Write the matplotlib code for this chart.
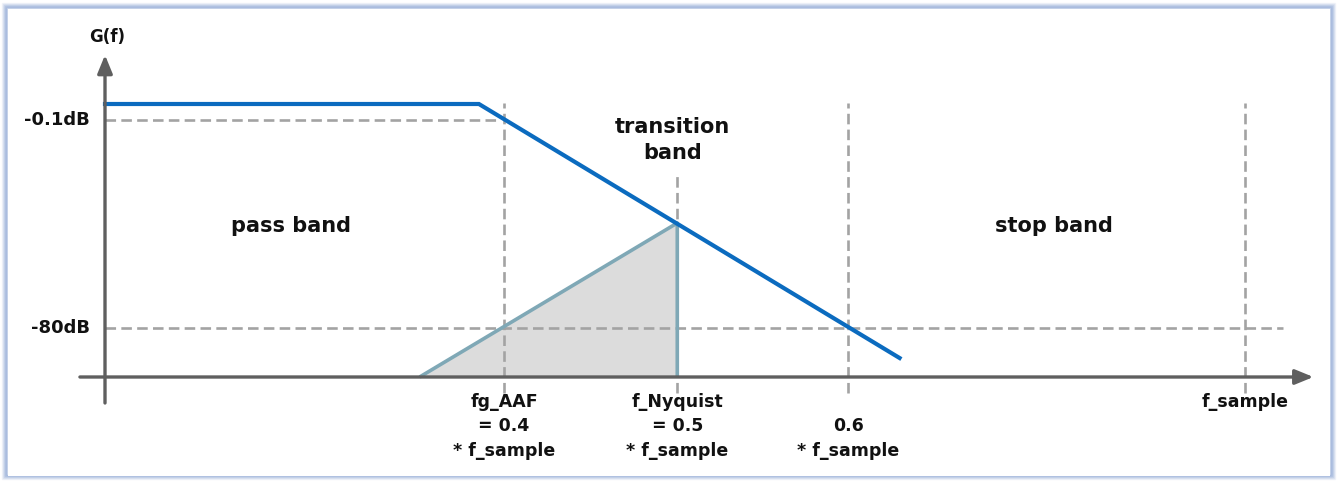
import numpy as np
import matplotlib
matplotlib.use("Agg")
import matplotlib.pyplot as plt
from matplotlib.patches import Rectangle, Polygon

# ---- schematic data (x in diagram units, f_sample = 1.0; y in diagram units) ----
resp_x = [0.0, 0.328, 0.697]          # filter response: flat pass band, then roll-off
resp_y = [2.73, 2.73, 0.19]
alias_x = [0.276, 0.502, 0.502]       # aliased (mirrored) component
alias_y = [0.0, 1.54, 0.0]
level_y = [2.57, 0.49]                # -0.1 dB and -80 dB levels
level_labels = ["-0.1dB", "-80dB"]
level_end_x = [0.345, 1.033]
vline_x = [0.350, 0.502, 0.652, 1.000]
vline_top = [2.74, 2.02, 2.74, 2.74]
tick_labels = ["fg_AAF\n= 0.4\n* f_sample", "f_Nyquist\n= 0.5\n* f_sample",
               "\n0.6\n* f_sample", "f_sample"]
band_labels = ["pass band", "transition\nband", "stop band"]
band_x = [0.163, 0.498, 0.832]
band_y = [1.51, 2.37, 1.51]

W, H = 1337, 482
fig = plt.figure(figsize=(W / 100, H / 100), dpi=100)
fig.patch.set_facecolor("white")

# frame with soft bluish border
fax = fig.add_axes([0, 0, 1, 1])
fax.set_xlim(0, W)
fax.set_ylim(H, 0)
fax.axis("off")
for i, a in enumerate([0.15, 0.3, 0.5, 0.7, 0.8, 0.5]):
    off = 1.5 + i
    fax.add_patch(Rectangle((off, off + 1), W - 2 * off - 1, H - 2 * off - 3,
                            fill=False, edgecolor="#9bb1d9", lw=1.0, alpha=a))
fax.add_patch(Rectangle((7.5, 8.5), W - 15, H - 15, facecolor="white", edgecolor="none"))

ax = fig.add_axes([0, 0, 1, 1])
ax.set_xlim(-105 / 1140, (W - 105) / 1140)
ax.set_ylim(-1.05, 3.77)
ax.axis("off")
ax.patch.set_alpha(0)

dash_kw = dict(color="#a3a3a3", lw=1.9, dashes=(4, 2))

# aliased triangle fill
ax.add_patch(Polygon(list(zip(alias_x, alias_y)), closed=True,
                     facecolor="#dcdcdc", edgecolor="none", zorder=1))

# dashed levels
for y, xe, lab in zip(level_y, level_end_x, level_labels):
    ax.plot([0, xe], [y, y], **dash_kw, zorder=2)
    ax.text(-0.013, y, lab, ha="right", va="center", fontsize=13,
            fontweight="bold", family="DejaVu Sans", color="#111111")

# vertical dashed lines
for x, top in zip(vline_x, vline_top):
    ax.plot([x, x], [-0.16, top], **dash_kw, zorder=2)

ax.plot(alias_x, alias_y, color="#7fa8b6", lw=2.6, zorder=3, solid_capstyle="butt")

# response
ax.plot(resp_x, resp_y, color="#0b6bbf", lw=3.0, zorder=4, solid_joinstyle="miter")

# axes arrows
ax.annotate("", xy=(1.060, 0), xytext=(-0.022, 0),
            arrowprops=dict(arrowstyle="-|>,head_length=1.1,head_width=0.45",
                            color="#5f5f5f", lw=2.4, shrinkA=0, shrinkB=0), zorder=5)
ax.annotate("", xy=(0, 3.22), xytext=(0, -0.26),
            arrowprops=dict(arrowstyle="-|>,head_length=1.1,head_width=0.45",
                            color="#5f5f5f", lw=2.4, shrinkA=0, shrinkB=0), zorder=5)

ax.text(0.002, 3.40, "G(f)", ha="center", va="center", fontsize=12,
        fontweight="bold", color="#111111")

for x, lab in zip(vline_x, tick_labels):
    ax.text(x, -0.16, lab, ha="center", va="top", fontsize=12.5,
            fontweight="bold", color="#111111", linespacing=1.45)

for x, y, lab in zip(band_x, band_y, band_labels):
    ax.text(x, y, lab, ha="center", va="center", fontsize=15,
            fontweight="bold", color="#111111", linespacing=1.35)

fig.savefig("out.png", dpi=100)
